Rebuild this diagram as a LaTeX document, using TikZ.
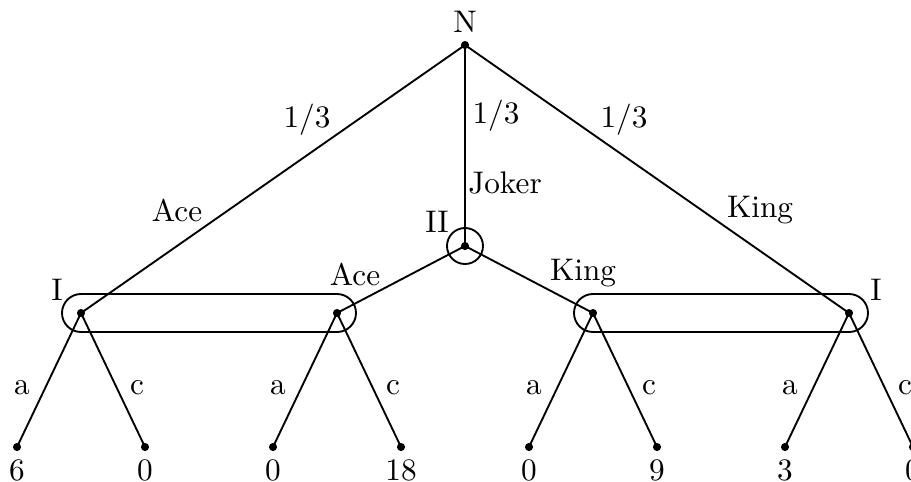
\documentclass[tikz,border=0pt]{standalone}
\begin{document}
\begin{tikzpicture}[x=0.32pt,y=-0.32pt,
  edge/.style={line width=0.6pt},
  dot/.style={circle,fill=black,inner sep=0pt,minimum size=2.6pt},
  lbl/.style={inner sep=0pt,anchor=center},
  infoset/.style={line width=0.6pt,rounded corners=6.08pt}]
\useasboundingbox (0,0) rectangle (911,481);
\clip (0,0) rectangle (911,481);
% decision nodes
\node[dot] (N) at (465,45) {};
\node[dot] (II) at (465,246) {};
\node[dot] (IL) at (81,313) {};
\node[dot] (A) at (337,313) {};
\node[dot] (K) at (593,313) {};
\node[dot] (IR) at (849,313) {};
% leaves
\node[dot] (l1) at (17,447) {};
\node[dot] (l2) at (145,447) {};
\node[dot] (l3) at (273,447) {};
\node[dot] (l4) at (401,447) {};
\node[dot] (l5) at (529,447) {};
\node[dot] (l6) at (657,447) {};
\node[dot] (l7) at (785,447) {};
\node[dot] (l8) at (913,447) {};
% player circle
\draw[edge] (II) circle[radius=18];
% information sets
\draw[infoset] (62,294) rectangle (356,332);
\draw[infoset] (574,294) rectangle (868,332);
% edges
\draw[edge] (N.center) -- (IL.center);
\draw[edge] (N.center) -- (II.center);
\draw[edge] (N.center) -- (IR.center);
\draw[edge] (II.center) -- (A.center);
\draw[edge] (II.center) -- (K.center);
\foreach \p/\x/\y in {IL/l1/l2, A/l3/l4, K/l5/l6, IR/l7/l8}{
  \draw[edge] (\p.center) -- (\x.center);
  \draw[edge] (\p.center) -- (\y.center);
}
% labels
\node[lbl] (tN) at (465,22) {N};
\node[lbl] (tII) at (437,222) {II};
\node[lbl] (tIL) at (57,290) {I};
\node[lbl] (tIR) at (876,290) {I};
\node[lbl] (p1) at (307,120) {1/3};
\node[lbl] (p2) at (496,116) {1/3};
\node[lbl] (p3) at (624,120) {1/3};
\node[lbl] (tJ) at (505,183) {Joker};
\node[lbl] (tA1) at (177,210) {Ace};
\node[lbl] (tK1) at (760,210) {King};
\node[lbl] (tA2) at (355,274) {Ace};
\node[lbl] (tK2) at (583,273) {King};
\foreach \x/\t in {22/a,137/c,278/a,393/c,534/a,649/c,790/a,905/c}{
  \node[lbl] at (\x,388) {\t};
}
\foreach \x/\t in {17/6,145/0,273/0,401/18,529/0,657/9,785/3,913/0}{
  \node[lbl] at (\x,470) {\t};
}
\end{tikzpicture}
\end{document}
